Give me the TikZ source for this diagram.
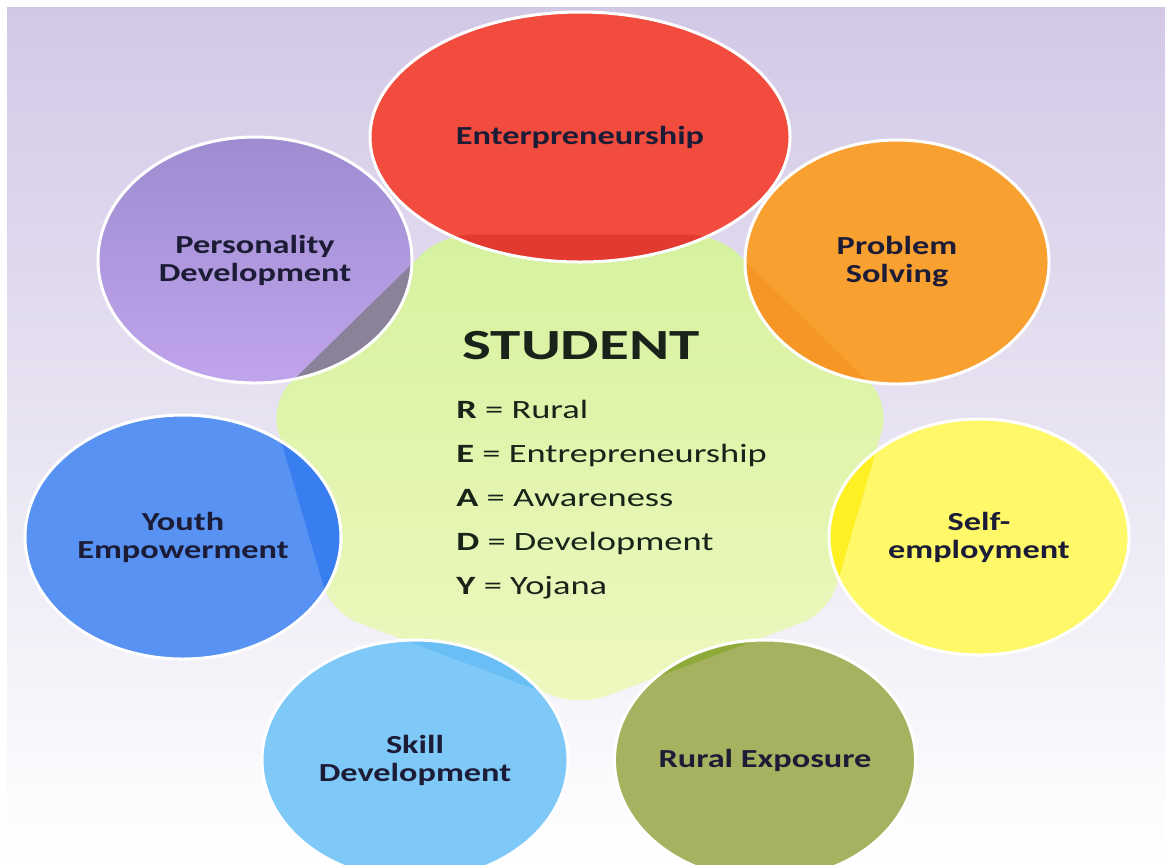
\documentclass[tikz,border=0pt]{standalone}
\usepackage{fontspec}
\setmainfont{Carlito}
\newfontfamily\labelfont[FakeStretch=1.32]{Carlito}
\newfontfamily\keyfont[FakeStretch=1.38]{Carlito}
\newfontfamily\titlefont[FakeStretch=1.42]{Carlito}
\usetikzlibrary{shapes.geometric,positioning}

\definecolor{bglav}{RGB}{210,200,230}
\definecolor{grtop}{RGB}{214,242,158}
\definecolor{grbot}{RGB}{238,248,192}
\definecolor{redbase}{RGB}{242,76,62}
\definecolor{redover}{RGB}{226,58,48}
\definecolor{purtop}{RGB}{158,140,208}
\definecolor{purbot}{RGB}{192,164,236}
\definecolor{purover}{RGB}{138,130,152}
\definecolor{orgbase}{RGB}{248,160,48}
\definecolor{orgover}{RGB}{246,150,38}
\definecolor{blubase}{RGB}{88,146,242}
\definecolor{bluover}{RGB}{56,126,240}
\definecolor{yelbase}{RGB}{255,248,104}
\definecolor{yelover}{RGB}{255,240,36}
\definecolor{skybase}{RGB}{126,201,248}
\definecolor{skyover}{RGB}{104,190,245}
\definecolor{olvbase}{RGB}{166,178,96}
\definecolor{olvover}{RGB}{142,170,56}
\definecolor{labelink}{RGB}{28,28,55}
\definecolor{keyink}{RGB}{25,35,25}

\tikzset{
  bubble/.style={ellipse, draw=white, line width=1.5pt, inner sep=0pt,
    align=center, text=labelink,
    font=\labelfont\bfseries\fontsize{13}{14}\selectfont,
    minimum width=157pt, minimum height=122pt},
}

\begin{document}
\begin{tikzpicture}[x=0.5pt,y=-0.5pt]
  \useasboundingbox (0,0) rectangle (1165,864);
  \fill[white] (0,0) rectangle (1165,864);
  \shade[shading angle=50, top color=bglav, bottom color=white] (7,7) rectangle (1165,864);

  % centre shape
  \shade[top color=grtop, bottom color=grbot, rounded corners=14pt, save path=\hept]
    plot[samples at={0,...,6}] ({580+318*cos(90+\x*360/7)},{458+248*sin(90+\x*360/7)}) -- cycle;

  % coloured discs
  \fill[redbase] (580,137) ellipse [x radius=210, y radius=125];
  \shade[top color=purtop, bottom color=purbot] (255,260) ellipse [x radius=157, y radius=123];
  \fill[orgbase] (897,262) ellipse [x radius=152, y radius=122];
  \fill[blubase] (183,537) ellipse [x radius=158, y radius=122];
  \fill[yelbase] (979,537) ellipse [x radius=150, y radius=118];
  \fill[skybase] (415,760) ellipse [x radius=153, y radius=120];
  \fill[olvbase] (765,760) ellipse [x radius=150, y radius=120];

  % where the discs lie on the centre shape
  \begin{scope}
    \clip[use path=\hept];
    \fill[redover] (580,137) ellipse [x radius=210, y radius=125];
    \fill[purover] (255,260) ellipse [x radius=157, y radius=123];
    \fill[orgover] (897,262) ellipse [x radius=152, y radius=122];
    \fill[bluover] (183,537) ellipse [x radius=158, y radius=122];
    \fill[yelover] (979,537) ellipse [x radius=150, y radius=118];
    \fill[skyover] (415,760) ellipse [x radius=153, y radius=120];
    \fill[olvover] (765,760) ellipse [x radius=150, y radius=120];
  \end{scope}

  \node[bubble, minimum width=210pt, minimum height=125pt] (ent) at (580,137) {Enterpreneurship};
  \node[bubble, minimum height=123pt] (pers) at (255,260) {Personality\\Development};
  \node[bubble, minimum width=152pt] (prob) at (897,262) {Problem\\Solving};
  \node[bubble, minimum width=158pt] (youth) at (183,537) {Youth\\Empowerment};
  \node[bubble, minimum width=150pt, minimum height=118pt] (self) at (979,537) {Self-\\employment};
  \node[bubble, minimum width=153pt, minimum height=120pt] (skill) at (415,760) {Skill\\Development};
  \node[bubble, minimum width=150pt, minimum height=120pt] (rural) at (765,760) {Rural Exposure};

  \node[text=keyink, font=\titlefont\bfseries\fontsize{21.5}{24}\selectfont] (stud) at (581,346) {STUDENT};
  \node[text=keyink, anchor=north west, align=left, inner sep=0pt,
        font=\keyfont\fontsize{13.2}{22}\selectfont] (key) at (456,400)
    {\textbf{R} = Rural\\ \textbf{E} = Entrepreneurship\\ \textbf{A} = Awareness\\
     \textbf{D} = Development\\ \textbf{Y} = Yojana};
\end{tikzpicture}
\end{document}
